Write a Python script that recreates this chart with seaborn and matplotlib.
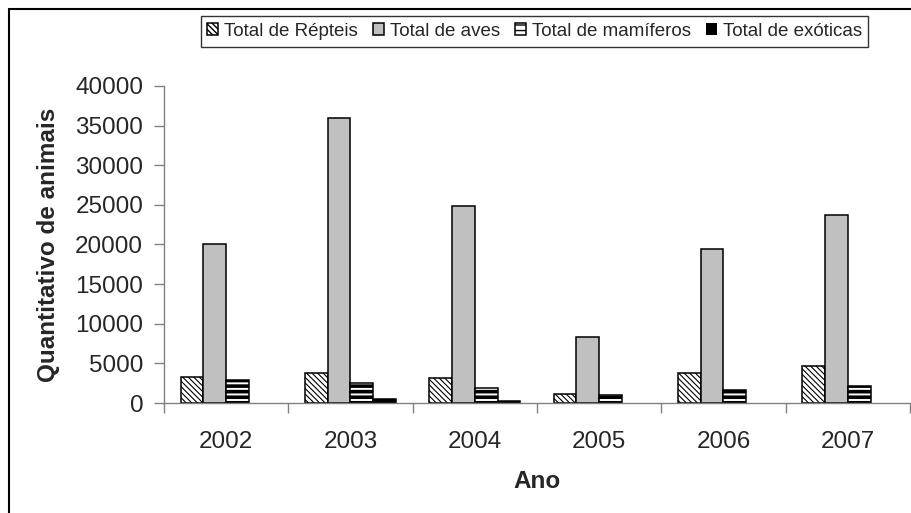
import matplotlib
matplotlib.use("Agg")
import matplotlib.pyplot as plt
from matplotlib.lines import Line2D
import seaborn as sns
import pandas as pd

# values
anos = ["2002", "2003", "2004", "2005", "2006", "2007"]
repteis = [3300, 3750, 3100, 1200, 3750, 4700]
aves = [20000, 36000, 24850, 8350, 19450, 23700]
mamiferos = [2900, 2550, 1950, 1050, 1600, 2150]
exoticas = [0, 450, 250, 0, 0, 0]

series = ["Total de Répteis", "Total de aves", "Total de mamíferos", "Total de exóticas"]
cores = ["white", "#c0c0c0", "white", "black"]
hatches = ["\\" * 6, "", "---", ""]

df = pd.DataFrame({
    "Ano": anos * 4,
    "valor": repteis + aves + mamiferos + exoticas,
    "serie": [s for s in series for _ in anos],
})

sns.set_style("white")
plt.rcParams["font.family"] = ["Liberation Sans", "DejaVu Sans"]

fig = plt.figure(figsize=(9.12, 5.13), dpi=100)
ax = fig.add_axes([0.1798, 0.2144, 0.8180, 0.6180])

sns.barplot(data=df, x="Ano", y="valor", hue="serie", hue_order=series,
            palette=cores, edgecolor="black", linewidth=1.1,
            width=0.73, gap=0, legend=False, ax=ax)

for cont, h in zip(ax.containers, hatches):
    for p in cont.patches:
        p.set_hatch(h)
        if h == "---":
            p.set_hatch_linewidth(2.6)
        elif h:
            p.set_hatch_linewidth(0.8)
        if p.get_height() == 0:
            p.set_linewidth(0)  # empty years: no bar drawn

ax.set_ylim(0, 40000)
ax.set_xlim(-0.5, 5.5)
ax.set_yticks(range(0, 40001, 5000))
ax.set_xticks([i - 0.5 for i in range(7)], minor=True)
ax.tick_params(axis="x", which="major", length=0, labelsize=17.5, pad=20)
ax.tick_params(axis="x", which="minor", length=7, width=1, color="#808080", direction="out")
ax.tick_params(axis="y", length=7, width=1, color="#808080", direction="out", labelsize=17.5, pad=8)
ax.xaxis.set_tick_params(which="minor", bottom=True)
ax.yaxis.set_tick_params(left=True)

for s in ["top", "right"]:
    ax.spines[s].set_visible(False)
for s in ["left", "bottom"]:
    ax.spines[s].set_color("#808080")
    ax.spines[s].set_linewidth(1)

ax.set_xlabel("Ano", fontsize=17.5, fontweight="bold")
ax.set_ylabel("Quantitativo de animais", fontsize=17.5, fontweight="bold")
ax.xaxis.set_label_coords(0.5, -0.21)
ax.yaxis.set_label_coords(-0.14, 0.5)

leg = ax.legend(ax.containers, series, loc="center", ncol=4,
                bbox_to_anchor=(0.586, 0.9386), bbox_transform=fig.transFigure,
                fontsize=13.5, frameon=True, fancybox=False, edgecolor="black",
                handlelength=0.6, handleheight=0.6, handletextpad=0.3,
                columnspacing=0.8, borderpad=0.35)
leg.get_frame().set_linewidth(1)

# outer border of the chart area (left and top visible)
fig.add_artist(Line2D([9 / 912, 9 / 912], [0, 1 - 9 / 513], transform=fig.transFigure,
                      color="black", linewidth=1.5))
fig.add_artist(Line2D([9 / 912, 1], [1 - 9 / 513, 1 - 9 / 513], transform=fig.transFigure,
                      color="black", linewidth=1.5))

fig.savefig("out.png", dpi=100)
